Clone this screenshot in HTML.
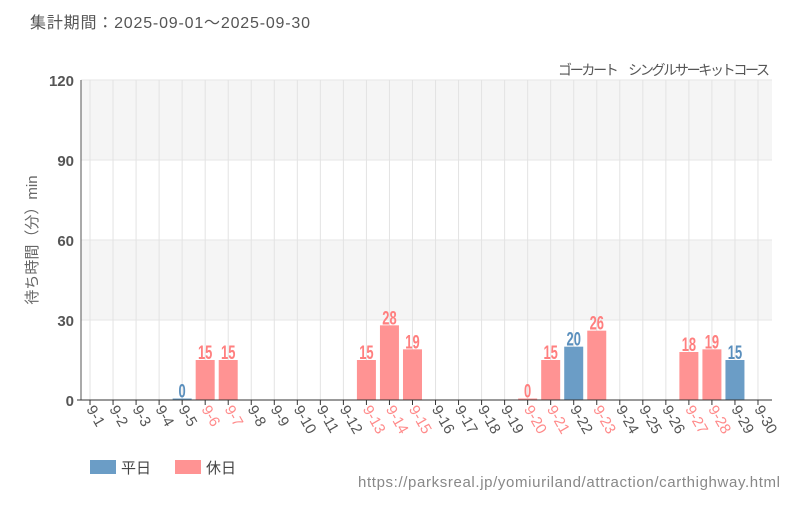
<!DOCTYPE html>
<html><head><meta charset="utf-8"><style>
body{margin:0;background:#fff;font-family:"Liberation Sans","Noto Sans CJK JP",sans-serif;}
svg text{font-family:"Liberation Sans","Noto Sans CJK JP",sans-serif;}
</style></head><body>
<svg id="c" width="800" height="500" xmlns="http://www.w3.org/2000/svg">
<text x="30" y="28" font-size="16" fill="#555" textLength="280">集計期間：2025-09-01～2025-09-30</text>
<text x="770" y="75" font-size="14" fill="#555" text-anchor="end" textLength="212">ゴーカート　シングルサーキットコース</text>
<text transform="translate(37,240) rotate(-90)" font-size="15" fill="#666" text-anchor="middle">待ち時間（分）min</text>
<g id="plot"></g>
<rect x="90" y="460" width="26" height="14" fill="#6b9dc6"/>
<text x="121" y="473" font-size="15" fill="#444">平日</text>
<rect x="175" y="460" width="26" height="14" fill="#ff9393"/>
<text x="206" y="473" font-size="15" fill="#444">休日</text>
<text x="780" y="487" font-size="15" fill="#888" text-anchor="end" textLength="422">https://parksreal.jp/yomiuriland/attraction/carthighway.html</text>
</svg>
<script>
const categories=["9-1","9-2","9-3","9-4","9-5","9-6","9-7","9-8","9-9","9-10","9-11","9-12","9-13","9-14","9-15","9-16","9-17","9-18","9-19","9-20","9-21","9-22","9-23","9-24","9-25","9-26","9-27","9-28","9-29","9-30"];
const values=[null,null,null,null,0,15,15,null,null,null,null,null,15,28,19,null,null,null,null,0,15,20,26,null,null,null,18,19,15,null];
const holidays=[0,0,0,0,0,1,1,0,0,0,0,0,1,1,1,0,0,0,0,1,1,0,1,0,0,0,1,1,0,0];
const yTicks=[0,30,60,90,120];
const NS="http://www.w3.org/2000/svg";
const g=document.getElementById('plot');
const L=81,R=772,T=80,B=400,yMax=120;
const step=(R-L)/categories.length;
const xc=i=>L+step*(i+0.5)-2.5;
const y=v=>B-(v/yMax)*(B-T);
function mk(tag,attrs){const e=document.createElementNS(NS,tag);for(const k in attrs)e.setAttribute(k,attrs[k]);g.appendChild(e);return e;}
for(let i=0;i<yTicks.length-1;i++){
 if(i%2==1){const r=mk('rect',{x:L,y:y(yTicks[i+1]),width:R-L,height:y(yTicks[i])-y(yTicks[i+1]),fill:'#f5f5f5'});
 
 }
}
yTicks.forEach(t=>{
 const l=mk('line',{x1:L,x2:R,y1:y(t),y2:y(t),stroke:'#e6e6e6'});
 
 
 const tx=mk('text',{x:L-7,y:y(t)+6,'font-size':15,'font-weight':'bold',fill:'#555','text-anchor':'end'});
 tx.textContent=t;
 
 
});
categories.forEach((c,i)=>{
 const x=xc(i);
 const gl=mk('line',{x1:x,x2:x,y1:T,y2:B,stroke:'#e3e3e3'});
 
 
 const tk=mk('line',{x1:x,x2:x,y1:B,y2:B+5,stroke:'#333'});
 
 
 const col=holidays[i]?'#ff8a8a':'#555';
 const tl=mk('text',{x:0,y:0,'font-size':15,fill:col,transform:`translate(${x-4},${B+9}) rotate(60)`});
 tl.textContent=c;
 
 
 const v=values[i];
 if(v!==null){
  const fill=holidays[i]?'#ff9393':'#6b9dc6';
  const tc=holidays[i]?'#ff7f7f':'#5a8fbd';
  const h=Math.max(B-y(v),1.5);
  const b=mk('rect',{x:x-9.5,y:B-h,width:19,height:h,fill:fill});
  
  
  const vt=mk('text',{x:0,y:0,'font-size':19,'font-weight':'bold',fill:tc,'text-anchor':'middle',transform:`translate(${x},${B-h-1}) scale(0.68,1)`});
  vt.textContent=v;
  
  
 }
});
const ax=mk('line',{x1:L,x2:L,y1:T,y2:B,stroke:'#555'});


const bx=mk('line',{x1:L-4,x2:R,y1:B,y2:B,stroke:'#333'});


</script>
</body></html>
